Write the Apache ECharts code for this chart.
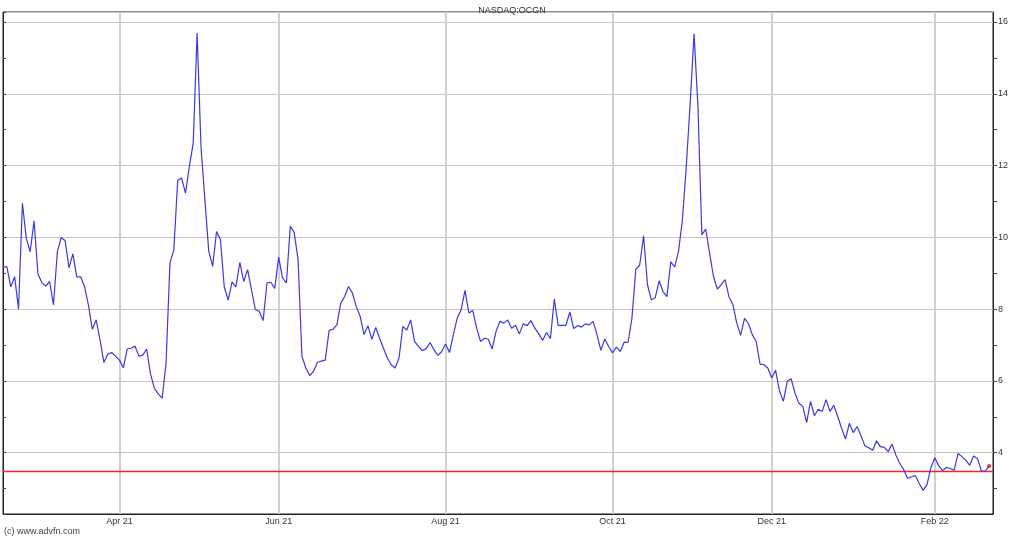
<!DOCTYPE html>
<html><head><meta charset="utf-8">
<script src="https://cdn.jsdelivr.net/npm/echarts@6/dist/echarts.min.js"></script>
<style>html,body{margin:0;padding:0;background:#fff}#c{width:1024px;height:538px}</style>
</head><body><div id="c"></div>
<script>
const chartTitle = 'NASDAQ:OCGN';
const credit = '(c) www.advfn.com';
// daily closes, one per trading day (Feb 2021 - Feb 2022)
const close = [
 9.18, 9.18, 8.62, 8.90, 8.00, 10.95, 9.97, 9.60, 10.46, 8.98,
 8.74, 8.64, 8.77, 8.12, 9.60, 9.99, 9.91, 9.15, 9.54, 8.90,
 8.90, 8.63, 8.12, 7.44, 7.70, 7.14, 6.51, 6.75, 6.79, 6.69,
 6.58, 6.37, 6.89, 6.91, 6.97, 6.69, 6.72, 6.89, 6.19, 5.79,
 5.64, 5.52, 6.49, 9.28, 9.65, 11.59, 11.65, 11.23, 11.98, 12.63,
 15.69, 12.53, 11.05, 9.61, 9.19, 10.16, 9.94, 8.61, 8.25, 8.76,
 8.62, 9.30, 8.77, 9.10, 8.54, 7.99, 7.94, 7.68, 8.73, 8.75,
 8.58, 9.45, 8.87, 8.73, 10.31, 10.14, 9.38, 6.69, 6.36, 6.15,
 6.27, 6.52, 6.55, 6.58, 7.41, 7.44, 7.56, 8.17, 8.35, 8.63,
 8.45, 8.07, 7.80, 7.29, 7.54, 7.16, 7.49, 7.19, 6.91, 6.64,
 6.45, 6.36, 6.64, 7.52, 7.42, 7.70, 7.10, 6.96, 6.84, 6.90,
 7.07, 6.87, 6.71, 6.82, 7.03, 6.79, 7.29, 7.75, 7.98, 8.52,
 7.89, 7.96, 7.47, 7.10, 7.19, 7.16, 6.89, 7.38, 7.66, 7.61,
 7.70, 7.47, 7.55, 7.31, 7.59, 7.54, 7.68, 7.47, 7.31, 7.13,
 7.35, 7.18, 8.28, 7.55, 7.55, 7.55, 7.92, 7.46, 7.54, 7.50,
 7.59, 7.56, 7.66, 7.29, 6.85, 7.17, 6.96, 6.78, 6.94, 6.82,
 7.08, 7.07, 7.75, 9.11, 9.23, 10.04, 8.68, 8.26, 8.32, 8.79,
 8.49, 8.35, 9.32, 9.17, 9.61, 10.49, 11.98, 13.74, 15.67, 13.65,
 10.07, 10.23, 9.56, 8.91, 8.56, 8.68, 8.82, 8.34, 8.13, 7.61,
 7.27, 7.74, 7.60, 7.29, 7.10, 6.47, 6.45, 6.36, 6.08, 6.30,
 5.72, 5.43, 5.99, 6.06, 5.66, 5.38, 5.29, 4.84, 5.43, 5.03,
 5.21, 5.15, 5.48, 5.15, 5.32, 5.01, 4.68, 4.38, 4.82, 4.56,
 4.73, 4.47, 4.19, 4.14, 4.07, 4.33, 4.17, 4.15, 4.03, 4.24,
 3.93, 3.70, 3.53, 3.28, 3.33, 3.36, 3.14, 2.95, 3.11, 3.58,
 3.86, 3.64, 3.50, 3.59, 3.56, 3.51, 3.98, 3.89, 3.79, 3.65,
 3.91, 3.84, 3.49, 3.49, 3.63
];
const tickIndex = [30, 71, 114, 157, 198, 240];
const tickLabels = ['Apr 21', 'Jun 21', 'Aug 21', 'Oct 21', 'Dec 21', 'Feb 22'];
const refLine = 3.476;
const yMin = 2.292, yMax = 16.279;
// one category per trading day plus one empty slot at the right edge
const days = [];
for (let i = 0; i <= close.length; i++) days.push(String(i));

const font = "'Liberation Sans', Arial, sans-serif";
const chart = echarts.init(document.getElementById('c'));
const isTick = (i) => tickIndex.indexOf(i) >= 0;
const lastIdx = close.length - 1;
const red = '#ff2020';
chart.setOption({
  animation: false,
  backgroundColor: '#fff',
  textStyle: { fontFamily: font },
  title: { text: chartTitle, left: 'center', top: 1,
    textStyle: { fontSize: 9, fontWeight: 'normal', color: '#333', fontFamily: font } },
  graphic: [{ type: 'text', left: 4, top: 527,
    style: { text: credit, fontSize: 9, fill: '#444', font: "9px 'Liberation Sans', Arial, sans-serif" } }],
  grid: { left: 3, right: 31, top: 12, bottom: 24, show: true, borderColor: '#222', borderWidth: 1 },
  xAxis: {
    type: 'category', data: days, boundaryGap: false,
    axisLine: { show: true, onZero: false, lineStyle: { color: '#222', width: 1 } },
    axisTick: { show: false },
    axisLabel: { interval: (i) => isTick(i), formatter: (v, i) => isTick(i) ? tickLabels[tickIndex.indexOf(i)] : '',
      fontSize: 9, color: '#333', margin: 3, fontFamily: font },
    splitLine: { show: true, interval: (i) => isTick(i), lineStyle: { color: '#d0d0d0', width: 2 } }
  },
  yAxis: [
    { type: 'value', position: 'right', min: yMin, max: yMax, splitNumber: 14, scale: true,
      axisLine: { show: true, lineStyle: { color: '#222' } },
      axisTick: { show: true, length: 4, lineStyle: { color: '#444' } },
      axisLabel: { showMinLabel: false, showMaxLabel: false, fontSize: 9, color: '#333', margin: 5, fontFamily: font,
        formatter: (v) => (Math.abs(v % 2) < 1e-6 ? String(v) : '') },
      splitLine: { show: false } },
    { type: 'value', position: 'left', min: yMin, max: yMax, splitNumber: 14, scale: true,
      axisLine: { show: true, lineStyle: { color: '#222' } },
      axisTick: { show: true, inside: true, length: 3, lineStyle: { color: '#444' } },
      axisLabel: { show: false }, splitLine: { show: false } },
    { type: 'value', position: 'right', min: yMin, max: yMax, splitNumber: 7, scale: true,
      axisLine: { show: false }, axisTick: { show: false }, axisLabel: { show: false },
      splitLine: { show: true, lineStyle: { color: '#c4c4c4', width: 1 } } }
  ],
  series: [
    { name: 'ref', type: 'line', yAxisIndex: 0, showSymbol: false, symbol: 'none', silent: true,
      data: [[0, refLine], [days.length - 1, refLine]],
      itemStyle: { color: red },
      lineStyle: { color: red, width: 1.3 } },
    { name: 'OCGN', type: 'line', data: close, yAxisIndex: 0, showSymbol: false, symbol: 'none',
      itemStyle: { color: '#3a3ade' },
      lineStyle: { color: '#3a3ade', width: 1.2 } },
    { type: 'scatter', yAxisIndex: 0, data: [[lastIdx, close[lastIdx]]], symbolSize: 4,
      itemStyle: { color: '#ff0000' } }
  ]
});
</script></body></html>
